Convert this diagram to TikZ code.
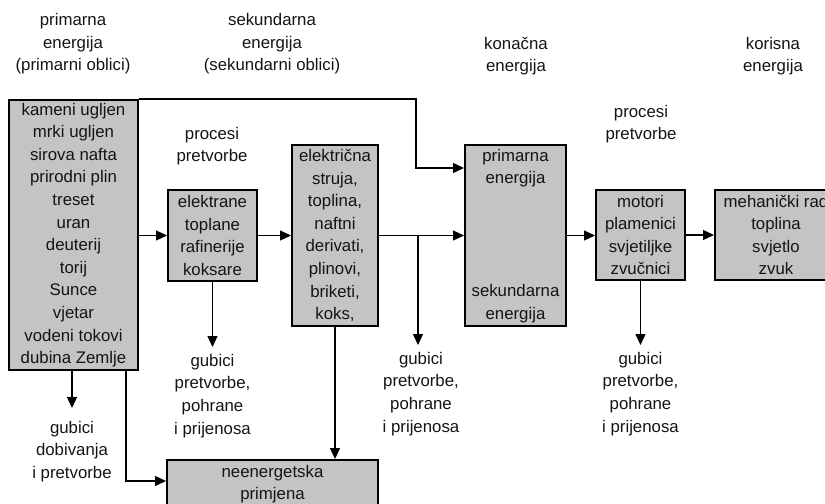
\documentclass[tikz,border=0pt]{standalone}
\usepackage{fontspec}
\setmainfont{Liberation Sans}
\usetikzlibrary{arrows.meta}
\definecolor{boxgray}{RGB}{196,196,196}
\definecolor{inkc}{RGB}{20,20,20}
\begin{document}
\begin{tikzpicture}[x=1bp,y=-1bp,
  txt/.style={font=\fontsize{16.8bp}{22.6bp}\selectfont, align=center, inner sep=0pt, text=inkc},
  blk/.style={txt, draw=black, line width=2bp, fill=boxgray},
  conn/.style={line width=1.3bp, draw=black},
  arr/.style={conn, -{Triangle[length=11bp,width=10bp]}},
  loss/.style={txt, anchor=north, inner ysep=7bp}]
\useasboundingbox (0,0) rectangle (825,504);
\clip (0,0) rectangle (825,504);

% headings
\node[txt] (h1) at (73,44) {primarna\\energija\\(primarni oblici)};
\node[txt] (h2) at (272,44) {sekundarna\\energija\\(sekundarni oblici)};
\node[txt] (h3) at (516,56) {konačna\\energija};
\node[txt] (h4) at (773,56) {korisna\\energija};
\node[txt] (p1) at (212,146) {procesi\\pretvorbe};
\node[txt] (p2) at (641,124) {procesi\\pretvorbe};

% boxes
\node[blk, minimum width=129bp, minimum height=270bp] (src) at (73.5,235)
  {kameni ugljen\\mrki ugljen\\sirova nafta\\prirodni plin\\treset\\uran\\deuterij\\torij\\Sunce\\vjetar\\vodeni tokovi\\dubina Zemlje};
\node[blk, minimum width=89bp, minimum height=91bp] (conv1) at (212.5,235.5)
  {elektrane\\toplane\\rafinerije\\koksare};
\node[blk, minimum width=86bp, minimum height=181bp] (sec) at (335,235.5)
  {električna\\struja,\\toplina,\\naftni\\derivati,\\plinovi,\\briketi,\\koks,};
\node[blk, minimum width=101bp, minimum height=181bp] (fin) at (515.5,235.5) {};
\node[txt] (fintop) at (515.5,168) {primarna\\energija};
\node[txt] (finbot) at (515.5,303.5) {sekundarna\\energija};
\node[blk, minimum width=89bp, minimum height=90bp] (conv2) at (640.5,235)
  {motori\\plamenici\\svjetiljke\\zvučnici};
\node[blk, minimum width=122bp, minimum height=90bp] (use) at (776,235)
  {mehanički rad\\toplina\\svjetlo\\zvuk};
\node[blk, minimum width=211bp, minimum height=48bp] (neen) at (272.5,484)
  {neenergetska\\primjena};

% loss labels
\node[loss, inner ysep=13bp] (loss1) at (72,408) {gubici\\dobivanja\\i pretvorbe};
\node[loss] (loss2) at (212.5,347) {gubici\\pretvorbe,\\pohrane\\i prijenosa};
\node[loss] (loss3) at (421,345) {gubici\\pretvorbe,\\pohrane\\i prijenosa};
\node[loss] (loss4) at (640.5,345) {gubici\\pretvorbe,\\pohrane\\i prijenosa};

% connectors
\coordinate (tb) at (416,168);
\coordinate (b1) at (418,235.5);
\coordinate (nb) at (126,481);
\draw[arr] (src.east |- conv1.west) -- (conv1.west);
\draw[arr] (conv1.east) -- (sec.west);
\draw[arr] (sec.east) -- (fin.west);
\draw[arr] (b1) -- (b1 |- loss3.north);
\draw[arr] (fin.east) -- (conv2.west |- fin.east);
\draw[arr] (conv2.east) -- (use.west);
\draw[arr] (src.north east) -| (tb) -- (tb -| fin.west);
\draw[arr] (src.south -| loss1.north) -- (loss1.north);
\draw[arr] (conv1.south) -- (loss2.north);
\draw[arr] (conv2.south) -- (loss4.north);
\draw[arr] (src.south -| nb) -- (nb) -- (nb -| neen.west);
\draw[arr] (sec.south) -- (neen.north -| sec.south);
\end{tikzpicture}
\end{document}
